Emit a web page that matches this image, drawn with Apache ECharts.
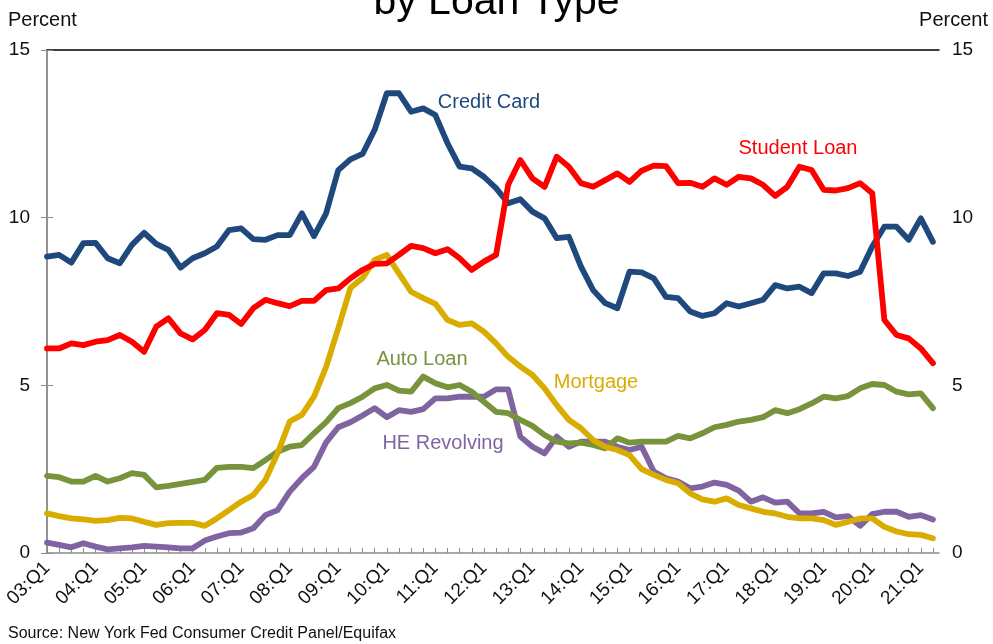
<!DOCTYPE html>
<html>
<head>
<meta charset="utf-8">
<script src="https://cdn.jsdelivr.net/npm/echarts@6/dist/echarts.min.js"></script>
<style>
  html, body { margin: 0; padding: 0; background: #fff; }
  #chart { width: 993px; height: 644px; }
</style>
</head>
<body>
<div id="chart"></div>
<script>
// quarters 03:Q1 .. 21:Q2
const quarters = [
  '03:Q1','03:Q2','03:Q3','03:Q4','04:Q1','04:Q2','04:Q3','04:Q4',
  '05:Q1','05:Q2','05:Q3','05:Q4','06:Q1','06:Q2','06:Q3','06:Q4',
  '07:Q1','07:Q2','07:Q3','07:Q4','08:Q1','08:Q2','08:Q3','08:Q4',
  '09:Q1','09:Q2','09:Q3','09:Q4','10:Q1','10:Q2','10:Q3','10:Q4',
  '11:Q1','11:Q2','11:Q3','11:Q4','12:Q1','12:Q2','12:Q3','12:Q4',
  '13:Q1','13:Q2','13:Q3','13:Q4','14:Q1','14:Q2','14:Q3','14:Q4',
  '15:Q1','15:Q2','15:Q3','15:Q4','16:Q1','16:Q2','16:Q3','16:Q4',
  '17:Q1','17:Q2','17:Q3','17:Q4','18:Q1','18:Q2','18:Q3','18:Q4',
  '19:Q1','19:Q2','19:Q3','19:Q4','20:Q1','20:Q2','20:Q3','20:Q4',
  '21:Q1','21:Q2'
]

const creditCard = [
  8.84, 8.89, 8.66, 9.24, 9.25, 8.79, 8.64, 9.19, 9.55, 9.22, 9.04, 8.51,
  8.79, 8.94, 9.14, 9.63, 9.68, 9.36, 9.34, 9.48, 9.48, 10.13, 9.45, 10.13,
  11.42, 11.74, 11.9, 12.62, 13.71, 13.71, 13.16, 13.26, 13.06, 12.22, 11.52, 11.47,
  11.22, 10.88, 10.43, 10.55, 10.18, 9.98, 9.39, 9.43, 8.54, 7.84, 7.45, 7.3,
  8.39, 8.37, 8.19, 7.64, 7.6, 7.2, 7.07, 7.15, 7.45, 7.35, 7.45, 7.55,
  7.99, 7.89, 7.94, 7.75, 8.34, 8.34, 8.26, 8.39, 9.14, 9.73, 9.73, 9.34,
  9.98, 9.28
]
const studentLoan = [
  6.1, 6.1, 6.25, 6.2, 6.3, 6.35, 6.5, 6.3, 6.0, 6.75, 7.0, 6.55,
  6.37, 6.65, 7.15, 7.1, 6.83, 7.3, 7.55, 7.45, 7.36, 7.52, 7.52, 7.84,
  7.89, 8.19, 8.44, 8.62, 8.64, 8.89, 9.16, 9.09, 8.94, 9.06, 8.79, 8.44,
  8.69, 8.89, 10.98, 11.72, 11.17, 10.92, 11.82, 11.52, 11.03, 10.92, 11.12, 11.32,
  11.07, 11.4, 11.55, 11.54, 11.03, 11.04, 10.92, 11.17, 10.98, 11.22, 11.17, 10.98,
  10.65, 10.92, 11.52, 11.42, 10.83, 10.81, 10.88, 11.03, 10.73, 6.95, 6.5, 6.4,
  6.1, 5.66
]
const mortgage = [
  1.18, 1.1, 1.03, 1.0, 0.96, 0.98, 1.05, 1.03, 0.93, 0.84, 0.89, 0.9,
  0.9, 0.81, 1.03, 1.28, 1.53, 1.73, 2.18, 2.97, 3.92, 4.12, 4.66, 5.55,
  6.7, 7.9, 8.2, 8.74, 8.89, 8.34, 7.79, 7.6, 7.43, 6.95, 6.8, 6.85,
  6.6, 6.25, 5.85, 5.56, 5.31, 4.91, 4.41, 3.97, 3.72, 3.37, 3.17, 3.07,
  2.92, 2.5, 2.33, 2.18, 2.08, 1.78, 1.6, 1.53, 1.63, 1.43, 1.33, 1.23,
  1.18, 1.08, 1.03, 1.03, 0.98, 0.84, 0.93, 1.03, 1.03, 0.78, 0.64, 0.56,
  0.54, 0.44
]
const autoLoan = [
  2.3, 2.26, 2.13, 2.13, 2.3, 2.13, 2.23, 2.38, 2.33, 1.96, 2.0, 2.06,
  2.12, 2.18, 2.54, 2.57, 2.57, 2.53, 2.77, 3.02, 3.17, 3.22, 3.57, 3.9,
  4.32, 4.47, 4.66, 4.91, 5.01, 4.84, 4.81, 5.26, 5.06, 4.94, 5.01, 4.81,
  4.51, 4.21, 4.17, 3.97, 3.79, 3.52, 3.32, 3.27, 3.29, 3.22, 3.12, 3.42,
  3.29, 3.32, 3.32, 3.32, 3.49, 3.42, 3.57, 3.75, 3.82, 3.92, 3.97, 4.05,
  4.26, 4.17, 4.29, 4.46, 4.66, 4.61, 4.68, 4.91, 5.04, 5.01, 4.81, 4.73,
  4.76, 4.32
]
const heRevolving = [
  0.31, 0.24, 0.17, 0.29, 0.19, 0.11, 0.14, 0.17, 0.21, 0.19, 0.17, 0.14,
  0.14, 0.37, 0.49, 0.59, 0.61, 0.74, 1.13, 1.28, 1.83, 2.23, 2.57, 3.3,
  3.75, 3.9, 4.1, 4.32, 4.05, 4.26, 4.21, 4.29, 4.61, 4.61, 4.66, 4.66,
  4.66, 4.88, 4.88, 3.47, 3.17, 2.97, 3.47, 3.17, 3.32, 3.32, 3.32, 3.17,
  3.07, 3.17, 2.43, 2.23, 2.13, 1.93, 1.98, 2.1, 2.03, 1.86, 1.53, 1.66,
  1.5, 1.53, 1.18, 1.18, 1.23, 1.06, 1.1, 0.81, 1.16, 1.23, 1.23, 1.08,
  1.13, 1.0
]

const FONT = '"Liberation Sans", Arial, sans-serif'
const toPoints = (arr) => arr.map((v, i) => [i, v])

const lineSeries = (name, data, color) => ({
  name,
  type: 'line',
  data: toPoints(data),
  symbol: 'none',
  lineStyle: { width: 5.8, color, join: 'round', cap: 'round' },
  itemStyle: { color },
  emphasis: { disabled: true },
  silent: true
})

const yAxisBase = {
  type: 'value',
  min: 0,
  max: 15,
  interval: 5,
  axisLine: { show: true, lineStyle: { color: '#8c8c8c', width: 1.5 } },
  axisTick: { show: true, inside: true, length: 6, lineStyle: { color: '#8c8c8c' } },
  splitLine: { show: false },
  axisLabel: { color: '#111', fontSize: 19, fontFamily: FONT }
}

const chart = echarts.init(document.getElementById('chart'))
chart.setOption({
  animation: false,
  grid: { left: 47, right: 54, top: 50, bottom: 91 },
  xAxis: [
    {
      type: 'value',
      min: 0,
      max: 73.5,
      interval: 1,
      position: 'bottom',
      axisLine: { show: true, onZero: false, lineStyle: { color: '#8c8c8c', width: 1.5 } },
      axisTick: { show: true, inside: true, length: 5, lineStyle: { color: '#8c8c8c' } },
      splitLine: { show: false },
      axisLabel: {
        rotate: 45,
        margin: 12,
        color: '#111',
        fontSize: 19,
        fontFamily: FONT,
        showMaxLabel: false,
        formatter: (v) => (v % 4 === 0 && quarters[v]) ? quarters[v] : ''
      }
    },
    {
      type: 'value',
      min: 0,
      max: 73.5,
      position: 'top',
      axisLine: { show: true, onZero: false, lineStyle: { color: '#000', width: 1.5 } },
      axisTick: { show: false },
      axisLabel: { show: false },
      splitLine: { show: false }
    }
  ],
  yAxis: [
    { ...yAxisBase, position: 'left', axisLabel: { ...yAxisBase.axisLabel, margin: 17 } },
    { ...yAxisBase, position: 'right', axisLabel: { ...yAxisBase.axisLabel, margin: 13 } }
  ],
  series: [
    lineSeries('HE Revolving', heRevolving, '#8064a2'),
    lineSeries('Auto Loan', autoLoan, '#77933c'),
    lineSeries('Mortgage', mortgage, '#d9ac00'),
    lineSeries('Credit Card', creditCard, '#1f497d'),
    lineSeries('Student Loan', studentLoan, '#ff0000')
  ],
  graphic: [
    { type: 'text', left: 'center', top: -18, style: { text: 'by Loan Type', font: '41px ' + FONT, fill: '#000' } },
    { type: 'text', x: 8, y: 20, style: { text: 'Percent', font: '20px ' + FONT, fill: '#111', verticalAlign: 'middle' } },
    { type: 'text', x: 988, y: 20, style: { text: 'Percent', font: '20px ' + FONT, fill: '#111', align: 'right', verticalAlign: 'middle' } },
    { type: 'text', x: 489, y: 102, style: { text: 'Credit Card', font: '20px ' + FONT, fill: '#1f497d', align: 'center', verticalAlign: 'middle' } },
    { type: 'text', x: 798, y: 148, style: { text: 'Student Loan', font: '20px ' + FONT, fill: '#ff0000', align: 'center', verticalAlign: 'middle' } },
    { type: 'text', x: 422, y: 359, style: { text: 'Auto Loan', font: '20px ' + FONT, fill: '#77933c', align: 'center', verticalAlign: 'middle' } },
    { type: 'text', x: 596, y: 382, style: { text: 'Mortgage', font: '20px ' + FONT, fill: '#d9ac00', align: 'center', verticalAlign: 'middle' } },
    { type: 'text', x: 443, y: 443, style: { text: 'HE Revolving', font: '20px ' + FONT, fill: '#8064a2', align: 'center', verticalAlign: 'middle' } },
    { type: 'text', x: 8, y: 634, style: { text: 'Source: New York Fed Consumer Credit Panel/Equifax', font: '16px ' + FONT, fill: '#111', verticalAlign: 'middle' } }
  ]
})
</script>
</body>
</html>
